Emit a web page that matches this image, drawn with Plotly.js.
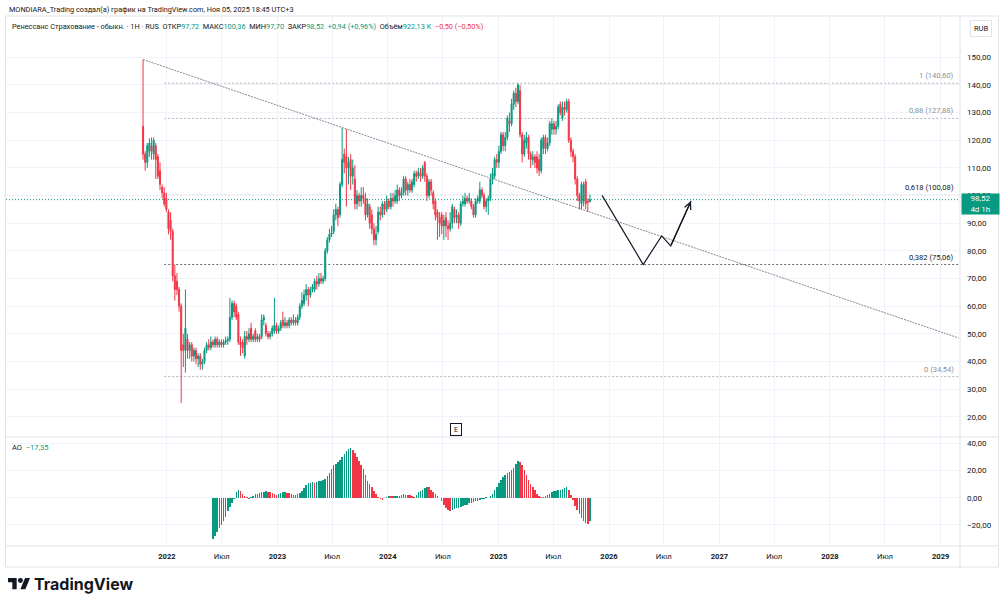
<!DOCTYPE html>
<html>
<head>
<meta charset="utf-8">
<script src="https://cdn.plot.ly/plotly-3.0.1.min.js"></script>
<style>
  html, body { margin: 0; padding: 0; background: #ffffff; }
  #chart { width: 1000px; height: 602px; }
</style>
</head>
<body>
<div id="chart"></div>
<script>
// Weekly candles of "Ренессанс Страхование", first bar on this date
const firstBar = '2021-10-14';

const open = [
  125,115,112,116,118,115,118,114,109,103,101,99,94,91,87,71,69,66,60,46,
  44,48,44,46,42,44,41,42,39,40,44,46,45,47,46,48,46,47,46,47,
  47.5,48,56,61,60,57,47,47,42,49,48,52,48,51,48,49,49,55,53,50,
  49,50,51,53,51,52,55,53,54,53,55,54,55,54,56,60,61,64,66,64,
  66,66,69,68,70,69,70,80,84,86,87,93,95,93,104,115,114,110,113,107,
  106,97,100,98,100,99,93,96,93,88,84,87,94,93,97,95,98,96,99,98,
  98,102,100,101,106,102,104,102,104,108,107,108,107,112,107,100,105,101,98,94,
  92,93,89,92,89,88,90,95,92,93,90,97,97,99,98,98,96,93,98,98,
  102,100,96,98,99,106,107,113,112,116,122,118,121,127,126,133,137,134,138,122,
  115,119,121,115,113,114,114,113,109,117,121,117,119,124,126,124,125,133,128,132,
  131,134,120,116,114,106,100,97,98,105,98,97.72
];
const high = [
  149.2,116,119,120.7,121,121,119,115,112,104,103,101,95,94,88,75,72,67,61,50,
  66,50,47,47,45,45,43,43,41,45,47,48,49,48,49,49,48,48,48,49,
  49,63,62,62,61,58,49,48,51,51,52,54,50,52,50,50,57,57,54,51,
  51,53,63,54,53,55,58,56,55,56,56,57,56,57,61,65,66,68,67,67,
  68,70,71,72,72,71,81,85,88,89,95,97,96,105,124.5,117,124,114,115,113,
  111,102,101,103,103,101,99,97,95,90,89,96,96,98,98,100,99,101,101,102,
  104,103,103,107,107,105,106,106,109,109,110,110,111,112.5,108,106,106,102,99,95,
  94,94,93,94,91,94,97,96,95,94,98,100,101,100,101,99,97,99,100,105,
  103,101,99,100,108,110,114,115,118,123,123,123,129,130,135,138,139,140.6,140,123,
  122,123,122,116,116,115,116,115,121,122,122,121,127,128,127,127,133,134,134,134,
  135,135,121,117,115,107,101,105,105,106,99,100.36
];
const low = [
  113,109,110,114,113,113,106,106,102,99,96,94,86,84,69,62,64,58,25,38,
  36,41,41,40,40,39,38,37,37,39,43,44,44,45,45,45,45,45,45,46,
  46,47,55,56,55,46,42,43,41,46,47,47,47,47,47,47,48,53,49,48,
  48,49,50,50,50,51,52,52,52,52,53,53,53,53,55,59,60,62,60,63,
  65,65,66,67,68,68,69,79,83,85,86,91,89,92,103,108,96,104,102,104,
  95,95,96,96,97,91,92,88,86,82,82,86,91,92,93,94,95,95,96,97,
  97,98,99,100,100,100,101,101,103,105,106,105,106,105,98,99,100,95,91,84,
  85,86,84,85,84,87,88,90,90,88,89,96,96,97,97,95,92,92,97,97,
  99,95,94,93,98,104,106,110,110,115,116,116,120,123,125,131,132,133,121,112,
  114,117,113,110,111,110,108,107,108,115,115,116,118,122,122,122,124,129,127,129,
  130,119,114,112,104,98,95,95,96,95,94,97.70
];
const close = [
  115,112,118,119,116,120,113,107,104,101,97,95,88,87,71,66,66,60,44,44,
  52,44,46,42,44,41,42,39,40,44,46,45,47,46,48,46,47,46,47,47.5,
  48,56,61,58,56,47,46,45,49,48,50,48,49,48,49,48,55,56,50,49,
  50,52,53,51,52,54,53,54,53,55,54,55,54,56,60,62,64,66,64,66,
  67,69,68,70,69,70,80,84,86,86.5,93,95,92,104,113,112,110,112,107,110,
  97,100,98,100,99,93,97,90,88,84,86,94,93,97,95,98,96,99,98,100,
  102,100,101,106,102,104,102,105,108,107,108.5,107,110,107,100,105,102,97,93,92,
  90,89,91,89,88,90,96,92,93,90,97,98,99,98,99,96,93,98,99,102,
  100,96,98,99,106,108,113,112,116,122,118,121,128,126,133,137,134,140,122,115,
  120,121,115,113,114,112,110,109,120,121,117,119,126,126,124,125,132,130,132,131,
  134,120,116,114,106,100,98,104,104,97,97.58,98.52
];

// Awesome Oscillator histogram, one value per bar, ending at the last candle
const ao = [
  -30,-28,-25,-22,-20,-17,-14,-10,-7,-4,-1,4,6,5,3,1.5,0.5,-0.8,0.5,1.5,
  2.5,3,3.5,4,4.3,4.6,4.5,4,3.5,2.5,2,3,3.5,4,4.2,3.8,3.2,3,2,2.2,
  2.6,3.5,5,7,9,10.5,11,11.2,11,11.3,12,12.5,12.7,14,16,18,21,24,25,26,
  28,30,32,34,35.5,36.5,35,33,30,27,24,21,17,12,10,8,5,2.5,0.8,-0.8,
  -1.5,-0.5,0.5,1.5,1.2,1,1.2,1.4,1.6,2,2.5,2.3,2,1.8,1.2,0.8,2,4,5,6,
  7,8,7.5,6,4.5,3,1,-0.5,-2.5,-5,-7.5,-9,-10,-9,-8.3,-7.8,-7.2,-6.6,-6,-5.5,
  -5,-4.2,-3.6,-3,-2.6,-2.1,-1.6,-1.1,-0.6,0.3,-0.3,1,3,5.5,8,10.5,13,15,17,18,
  19,20.5,22,24.5,27,26,24,20,17,13,10,8,5.5,3,1.5,0.5,0.7,1.2,2,3,
  4,4.6,5,5.5,6,6.5,7,7.5,5.5,2,-2,-6,-9,-12,-15,-17,-18.5,-19,-17.35
];

// Fibonacci retracement levels
const fibRatios = ['1', '0,88', '0,618', '0,382', '0'];
const fibLevels = [140.60, 127.88, 100.08, 75.06, 34.54];
const fibStart = '2021-12-23';

// Falling trendline drawn from the listing high
const trendDates = ['2021-10-14', '2029-03-01'];
const trendValues = [149.2, 48.5];

// Projected path (arrow)
const pathDates = ['2025-12-09', '2026-04-24', '2026-06-24', '2026-07-24', '2026-09-29'];
const pathValues = [100.08, 75.06, 85.4, 81.8, 98.0];

// Earnings marker
const earningsDate = '2024-08-13';

// Axes
const priceTicks = [20, 30, 40, 50, 60, 70, 80, 90, 100, 110, 120, 130, 140, 150];
const aoTicks = [-20, 0, 20, 40];
const timeTicks = ['2022-01-01','2022-07-01','2023-01-01','2023-07-01','2024-01-01','2024-07-01',
  '2025-01-01','2025-07-01','2026-01-01','2026-07-01','2027-01-01','2027-07-01',
  '2028-01-01','2028-07-01','2029-01-01'];
const timeLabels = ['2022','Июл','2023','Июл','2024','Июл','2025','Июл','2026','Июл','2027','Июл','2028','Июл','2029'];

// ---------------------------------------------------------------
const UP = '#089981', DOWN = '#f23645', TXT = '#131722', GRID = '#f0f3fa', FRAME = '#e0e3eb';
const DAY = 86400000;
const t0 = Date.parse(firstBar + 'T00:00:00Z');
const dates = close.map((_, i) => new Date(t0 + i * 7 * DAY).toISOString().slice(0, 10));
const aoDates = dates.slice(dates.length - ao.length);
const aoColors = ao.map((v, i) => (i === 0 || v >= ao[i - 1]) ? UP : DOWN);

const fmt = v => (v < 0 ? '\u2212' : '') + Math.abs(v).toFixed(2).replace('.', ',');
const n = close.length - 1;
const chg = close[n] - close[n - 1];
const pct = chg / close[n - 1] * 100;

// page geometry
const W = 1000, H = 602, ML = 6, MR = 40, MT = 17, MB = 56;
const PW = W - ML - MR, PH = H - MT - MB;
const px = x => (x - ML) / PW;
const py = y => (H - MB - y) / PH;
const split = py(437);
const xEnd = '2029-03-06';

const traces = [
  {
    type: 'candlestick', x: dates, open: open, high: high, low: low, close: close,
    xaxis: 'x', yaxis: 'y', hoverinfo: 'skip',
    increasing: { line: { color: UP, width: 1 }, fillcolor: UP },
    decreasing: { line: { color: DOWN, width: 1 }, fillcolor: DOWN }
  },
  {
    type: 'scatter', mode: 'lines', x: trendDates, y: trendValues,
    xaxis: 'x', yaxis: 'y', hoverinfo: 'skip',
    line: { color: '#868993', width: 1, dash: '2px,1px' }
  },
  {
    type: 'scatter', mode: 'lines', x: pathDates, y: pathValues,
    xaxis: 'x', yaxis: 'y', hoverinfo: 'skip',
    line: { color: TXT, width: 1.2 }
  },
  {
    type: 'bar', x: aoDates, y: ao, xaxis: 'x', yaxis: 'y2', hoverinfo: 'skip',
    width: 5 * DAY, marker: { color: aoColors, line: { width: 0 } }
  }
];

const shapes = [];
const fibColors = ['#b2b5be', '#b2b5be', '#6a6d78', '#6a6d78', '#b2b5be'];
fibLevels.forEach((lv, i) => {
  shapes.push({ type: 'line', xref: 'x', yref: 'y', x0: fibStart, x1: xEnd, y0: lv, y1: lv,
    line: { color: fibColors[i], width: 1, dash: '2px,2px' }, layer: 'below' });
});
// last price line
shapes.push({ type: 'line', xref: 'paper', yref: 'y', x0: 0, x1: 1, y0: close[n], y1: close[n],
  line: { color: UP, width: 1, dash: '1px,2px' } });
// frame and pane separators
shapes.push({ type: 'rect', xref: 'paper', yref: 'paper', x0: px(5.5), x1: px(998.5), y0: py(567), y1: py(16),
  line: { color: FRAME, width: 1 } });
shapes.push({ type: 'line', xref: 'paper', yref: 'paper', x0: px(5.5), x1: px(998.5), y0: split, y1: split,
  line: { color: FRAME, width: 1 } });
shapes.push({ type: 'line', xref: 'paper', yref: 'paper', x0: 1, x1: 1, y0: py(567), y1: py(16),
  line: { color: FRAME, width: 1 } });
shapes.push({ type: 'line', xref: 'paper', yref: 'paper', x0: px(5.5), x1: px(998.5), y0: 0, y1: 0,
  line: { color: FRAME, width: 1 } });

// TradingView logo mark
const LX = 8, LY = 578, LS = 0.62;
const P = (X, Y) => px(LX + LS * X) + ',' + py(LY + LS * (Y - 4));
shapes.push({ type: 'path', xref: 'paper', yref: 'paper', fillcolor: TXT, line: { width: 0 },
  path: 'M' + P(0, 4) + 'L' + P(14, 4) + 'L' + P(14, 22) + 'L' + P(7, 22) + 'L' + P(7, 11) + 'L' + P(0, 11) + 'Z' });
shapes.push({ type: 'path', xref: 'paper', yref: 'paper', fillcolor: TXT, line: { width: 0 },
  path: 'M' + P(20, 22) + 'L' + P(27.5, 4) + 'L' + P(35.5, 4) + 'L' + P(28, 22) + 'Z' });
shapes.push({ type: 'circle', xref: 'paper', yref: 'paper', fillcolor: TXT, line: { width: 0 },
  x0: px(LX + LS * 16), x1: px(LX + LS * 24), y0: py(LY + LS * 8), y1: py(LY + LS * 0) });

const teal = s => '<span style="color:' + UP + '">' + s + '</span>';
const red = s => '<span style="color:' + DOWN + '">' + s + '</span>';
const sp = '\u00a0\u00a0';
const sign = v => (v >= 0 ? '+' : '\u2212') + Math.abs(v).toFixed(2).replace('.', ',');

const annotations = [
  { xref: 'paper', yref: 'paper', x: px(7), y: py(9), xanchor: 'left', yanchor: 'middle', showarrow: false,
    text: 'MONDIARA_Trading создал(а) график на TradingView.com, Ноя 05, 2025 18:45 UTC+3',
    font: { size: 7.3, color: TXT } },
  { xref: 'paper', yref: 'paper', x: px(10), y: py(26.5), xanchor: 'left', yanchor: 'middle', showarrow: false,
    text: 'Ренессанс Страхование - обыкн. · 1H · RUS' + sp +
      'ОТКР' + teal(fmt(open[n])) + sp + 'МАКС' + teal(fmt(high[n])) + sp +
      'МИН' + teal(fmt(low[n])) + sp + 'ЗАКР' + teal(fmt(close[n])) + sp +
      teal(sign(chg) + ' (' + sign(pct) + '%)') + sp + 'Объём' + teal('922,13\u00a0K') + sp +
      red('\u22120,50 (\u22120,50%)'),
    font: { size: 7.35, color: TXT } },
  { xref: 'paper', yref: 'paper', x: px(981), y: py(29), xanchor: 'center', yanchor: 'middle', showarrow: false,
    text: 'RUB', font: { size: 7.5, color: TXT }, bordercolor: FRAME, borderwidth: 1, borderpad: 3, bgcolor: '#fff' },
  { xref: 'paper', yref: 'y', x: 1, y: close[n], xanchor: 'left', yanchor: 'top', yshift: 6.5, xshift: 0.5,
    showarrow: false, text: fmt(close[n]) + '<br>4d 1h', font: { size: 8, color: '#ffffff' },
    bgcolor: UP, width: 37, height: 20, borderpad: 0, align: 'center' },
  { xref: 'paper', yref: 'paper', x: px(10), y: py(447), xanchor: 'left', yanchor: 'middle', showarrow: false,
    text: 'AO\u00a0\u00a0' + teal(fmt(ao[ao.length - 1])), font: { size: 7.5, color: TXT } },
  { xref: 'x', yref: 'paper', x: earningsDate, y: py(429), xanchor: 'center', yanchor: 'middle', showarrow: false,
    text: 'E', font: { size: 7, color: TXT }, bordercolor: TXT, borderwidth: 1, borderpad: 1,
    bgcolor: '#fff', width: 8, height: 9 },
  { xref: 'x', yref: 'y', x: pathDates[4], y: pathValues[4], ax: pathDates[3], ay: pathValues[3],
    axref: 'x', ayref: 'y', showarrow: true, arrowhead: 5, arrowsize: 1.1, arrowwidth: 1.2,
    arrowcolor: TXT, text: '' },
  { xref: 'paper', yref: 'paper', x: px(32), y: py(584), xanchor: 'left', yanchor: 'middle', showarrow: false,
    text: '<b>TradingView</b>', font: { size: 16, color: TXT, family: 'Inter, Roboto, sans-serif' } }
];
fibLevels.forEach((lv, i) => {
  annotations.push({ xref: 'paper', yref: 'y', x: px(956), y: lv, xanchor: 'right', yanchor: 'bottom', yshift: 1,
    showarrow: false, text: fibRatios[i] + ' (' + fmt(lv) + ')',
    font: { size: 7.6, color: (i === 2 || i === 3) ? TXT : '#8c8f9a' } });
});

const layout = {
  width: W, height: H,
  margin: { l: ML, r: MR, t: MT, b: MB, pad: 0 },
  paper_bgcolor: '#ffffff', plot_bgcolor: '#ffffff',
  showlegend: false, hovermode: false, dragmode: false,
  font: { family: 'Roboto, "Noto Sans", sans-serif', size: 8, color: TXT },
  xaxis: {
    type: 'date', range: ['2020-07-18', xEnd], anchor: 'y2',
    tickmode: 'array', tickvals: timeTicks,
    ticktext: timeLabels.map(t => /^\d/.test(t) ? '<b>' + t + '</b>' : t),
    tickfont: { size: 7.6, color: TXT }, ticklabelstandoff: 4,
    showgrid: true, gridcolor: GRID, gridwidth: 1, zeroline: false, showline: false, ticks: '',
    rangeslider: { visible: false }, fixedrange: true
  },
  yaxis: {
    domain: [split, 1], range: [12.68, 164.57], side: 'right', anchor: 'x',
    tickmode: 'array', tickvals: priceTicks, ticktext: priceTicks.map(fmt),
    tickfont: { size: 8, color: TXT }, ticklabelstandoff: 6,
    showgrid: true, gridcolor: GRID, zeroline: false, showline: false, ticks: '', fixedrange: true
  },
  yaxis2: {
    domain: [0, split], range: [-35.4, 44.5], side: 'right', anchor: 'x',
    tickmode: 'array', tickvals: aoTicks, ticktext: aoTicks.map(fmt),
    tickfont: { size: 8, color: TXT }, ticklabelstandoff: 6,
    showgrid: true, gridcolor: GRID, zeroline: false, showline: false, ticks: '', fixedrange: true
  },
  bargap: 0,
  shapes: shapes,
  annotations: annotations
};

Plotly.newPlot('chart', traces, layout, { displayModeBar: false, staticPlot: true });
</script>
</body>
</html>
